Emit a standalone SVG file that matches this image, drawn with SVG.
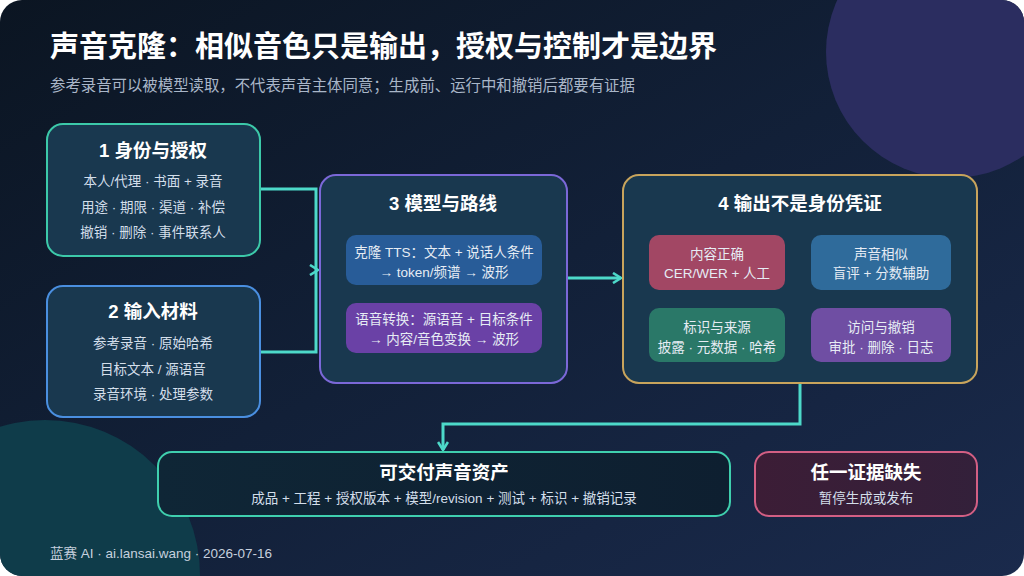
<svg xmlns="http://www.w3.org/2000/svg" width="1024" height="576" viewBox="0 0 1024 576">
<defs>
<linearGradient id="bg" x1="0" y1="0" x2="1" y2="1">
<stop offset="0" stop-color="#0b1522"/>
<stop offset="0.5" stop-color="#122038"/>
<stop offset="1" stop-color="#1a2a4c"/>
</linearGradient>
<linearGradient id="deliv" x1="0" y1="0" x2="1" y2="0">
<stop offset="0" stop-color="#0f2636"/>
<stop offset="1" stop-color="#0e1f30"/>
</linearGradient>
<linearGradient id="miss" x1="0" y1="0" x2="1" y2="0">
<stop offset="0" stop-color="#3c1d36"/>
<stop offset="1" stop-color="#33203a"/>
</linearGradient>
<clipPath id="card"><rect x="0" y="0" width="1024" height="576" rx="22"/></clipPath>
<marker id="arr" viewBox="0 0 12 12" refX="10" refY="6" markerWidth="12" markerHeight="12" markerUnits="userSpaceOnUse" orient="auto">
<path d="M2,1 L10,6 L2,11" fill="none" stroke="#4dd9c9" stroke-width="2.6"/>
</marker>
<style>
text{font-family:"Liberation Sans","Noto Sans CJK SC",sans-serif;}
.t{font-size:18.5px;font-weight:700;fill:#ffffff;text-anchor:middle;dominant-baseline:central;}
.b{font-size:13.5px;fill:#d3deea;text-anchor:middle;dominant-baseline:central;}
.s{font-size:13.5px;fill:#e6ecf4;text-anchor:middle;dominant-baseline:central;}
.node{fill:#19384f;stroke-width:2;}
.con{fill:none;stroke:#4dd9c9;stroke-width:3;}
</style>
</defs>
<rect width="1024" height="576" fill="#ffffff"/>
<g clip-path="url(#card)">
<rect width="1024" height="576" fill="url(#bg)"/>
<circle cx="952" cy="52" r="126" fill="#2b2d60"/>
<circle cx="45" cy="575" r="155" fill="#0f3c4a"/>
</g>
<text x="50" y="47" font-size="29" font-weight="700" fill="#ffffff" dominant-baseline="central">声音克隆：相似音色只是输出，授权与控制才是边界</text>
<text x="50" y="85" font-size="15.4" fill="#a9b6c8" dominant-baseline="central">参考录音可以被模型读取，不代表声音主体同意；生成前、运行中和撤销后都要有证据</text>
<g id="connectors">
<path class="con" d="M260,189 H316 V352 H260"/>
<path class="con" d="M300,270 H318" stroke-opacity="0" marker-end="url(#arr)"/>
<path class="con" d="M567,278 H621" marker-end="url(#arr)"/>
<path class="con" d="M800,384 V424 H443 V450" marker-end="url(#arr)"/>
</g>
<g id="node1">
<rect class="node" x="47" y="124" width="213" height="132" rx="16" stroke="#3cc9a9"/>
<text class="t" x="153" y="150">1 身份与授权</text>
<text class="b" x="153" y="181">本人/代理 · 书面 + 录音</text>
<text class="b" x="153" y="207">用途 · 期限 · 渠道 · 补偿</text>
<text class="b" x="153" y="232">撤销 · 删除 · 事件联系人</text>
</g>
<g id="node2">
<rect class="node" x="47" y="286" width="213" height="131" rx="16" stroke="#4a8fe0"/>
<text class="t" x="153" y="311">2 输入材料</text>
<text class="b" x="153" y="343">参考录音 · 原始哈希</text>
<text class="b" x="153" y="369">目标文本 / 源语音</text>
<text class="b" x="153" y="394">录音环境 · 处理参数</text>
</g>
<g id="node3">
<rect class="node" x="320" y="175" width="247" height="208" rx="16" stroke="#7b68d8"/>
<text class="t" x="443" y="203">3 模型与路线</text>
<rect x="346" y="235" width="196" height="50" rx="10" fill="#285c98"/>
<text class="s" x="444" y="252">克隆 TTS：文本 + 说话人条件</text>
<text class="s" x="444" y="272">→ token/频谱 → 波形</text>
<rect x="346" y="303" width="196" height="50" rx="10" fill="#6a41a6"/>
<text class="s" x="444" y="319">语音转换：源语音 + 目标条件</text>
<text class="s" x="444" y="339">→ 内容/音色变换 → 波形</text>
</g>
<g id="node4">
<rect class="node" x="623" y="175" width="354" height="208" rx="16" stroke="#c8a45c"/>
<text class="t" x="800" y="203">4 输出不是身份凭证</text>
<rect x="649" y="235" width="136" height="55" rx="10" fill="#a24764"/>
<text class="s" x="717" y="254">内容正确</text>
<text class="s" x="717" y="273">CER/WER + 人工</text>
<rect x="811" y="235" width="140" height="55" rx="10" fill="#2f6b9b"/>
<text class="s" x="881" y="254">声音相似</text>
<text class="s" x="881" y="273">盲评 + 分数辅助</text>
<rect x="649" y="308" width="136" height="54" rx="10" fill="#2a7868"/>
<text class="s" x="717" y="327">标识与来源</text>
<text class="s" x="717" y="347">披露 · 元数据 · 哈希</text>
<rect x="811" y="308" width="140" height="54" rx="10" fill="#6f4ea3"/>
<text class="s" x="881" y="327">访问与撤销</text>
<text class="s" x="881" y="347">审批 · 删除 · 日志</text>
</g>
<g id="deliverable">
<rect x="158" y="452" width="572" height="64" rx="14" fill="url(#deliv)" stroke="#3fcfae" stroke-width="2"/>
<text class="t" x="444" y="472">可交付声音资产</text>
<text class="b" x="444" y="498">成品 + 工程 + 授权版本 + 模型/revision + 测试 + 标识 + 撤销记录</text>
</g>
<g id="missing">
<rect x="755" y="452" width="222" height="64" rx="14" fill="url(#miss)" stroke="#d35f84" stroke-width="2"/>
<text class="t" x="866" y="472">任一证据缺失</text>
<text class="b" x="866" y="498">暂停生成或发布</text>
</g>
<text x="50" y="553" font-size="13.5" fill="#c6d0de" dominant-baseline="central">蓝赛 AI · ai.lansai.wang · 2026-07-16</text>
</svg>
